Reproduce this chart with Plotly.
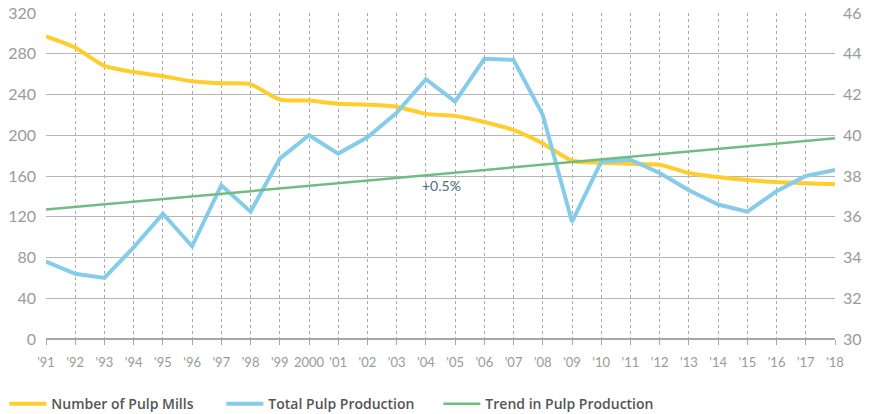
import plotly.graph_objects as go

years = list(range(1991, 2019))
tick_labels = ["'91", "'92", "'93", "'94", "'95", "'96", "'97", "'98", "'99", "2000",
               "'01", "'02", "'03", "'04", "'05", "'06", "'07", "'08", "'09", "'10",
               "'11", "'12", "'13", "'14", "'15", "'16", "'17", "'18"]

pulp_mills = [297, 286, 268, 262, 258, 253, 251, 250, 235, 234,
              231, 230, 228, 221, 219, 213, 205, 192, 175, 173,
              172, 171, 163, 159, 156, 154, 153, 152]

pulp_production = [33.8, 33.2, 33.0, 34.5, 36.15, 34.55, 37.55, 36.25, 38.85, 40.0,
                   39.1, 39.9, 41.1, 42.75, 41.65, 43.75, 43.7, 41.0, 35.75, 38.7,
                   38.8, 38.15, 37.3, 36.6, 36.25, 37.25, 38.0, 38.3]

trend_years = [1991, 2018]
trend_values = [36.35, 39.85]

trend_label = "+0.5%"

fig = go.Figure()
fig.add_trace(go.Scatter(x=years, y=pulp_mills, name="Number of Pulp Mills",
                         mode="lines", line=dict(color="#FFCD2C", width=4, shape="spline", smoothing=0.6),
                         yaxis="y"))
fig.add_trace(go.Scatter(x=years, y=pulp_production, name="Total Pulp Production",
                         mode="lines", line=dict(color="#84CCEA", width=4),
                         yaxis="y2"))
fig.add_trace(go.Scatter(x=trend_years, y=trend_values, name="Trend in Pulp Production",
                         mode="lines", line=dict(color="#72BC84", width=2.5),
                         yaxis="y2"))

fig.add_annotation(x=2004.55, y=37.55, yref="y2", text=trend_label, showarrow=False,
                   font=dict(family="Lato", size=14, color="#4B6C84"))

tickfont = dict(family="Lato", size=16, color="#9a9a9a")

fig.update_layout(
    width=874, height=414,
    margin=dict(l=46, r=39, t=13, b=75),
    paper_bgcolor="white", plot_bgcolor="white",
    xaxis=dict(tickmode="array", tickvals=years, ticktext=tick_labels,
               range=[1991, 2018], showgrid=True, gridcolor="#a8a8a8", griddash="3px,3px",
               gridwidth=1, zeroline=False, showline=False, automargin=False,
               ticks="outside", ticklen=5, tickcolor="#a8a8a8", ticklabelstandoff=6,
               tickfont=dict(family="Lato", size=13, color="#9a9a9a")),
    yaxis=dict(range=[0, 320], dtick=40, showgrid=True, gridcolor="#b5b5b5", gridwidth=1,
               zeroline=True, zerolinecolor="#a8a8a8", zerolinewidth=1.5, automargin=False,
               showline=False, tickfont=tickfont, ticks="", ticklabelstandoff=9),
    yaxis2=dict(range=[30, 46], dtick=2, overlaying="y", side="right", showgrid=False,
                zeroline=False, showline=False, tickfont=tickfont, ticklabelstandoff=7,
                automargin=False),
    legend=dict(orientation="h", x=0.005, y=0.024, xref="container", yref="container",
                xanchor="left", yanchor="middle",
                font=dict(family="Open Sans", size=14, color="#555555", weight=600),
                itemwidth=37, entrywidth=165, entrywidthmode="pixels", tracegroupgap=0),
    showlegend=True,
)

fig.write_html("out.html", config={"displayModeBar": False},
               post_script="document.body.style.margin='0';")
